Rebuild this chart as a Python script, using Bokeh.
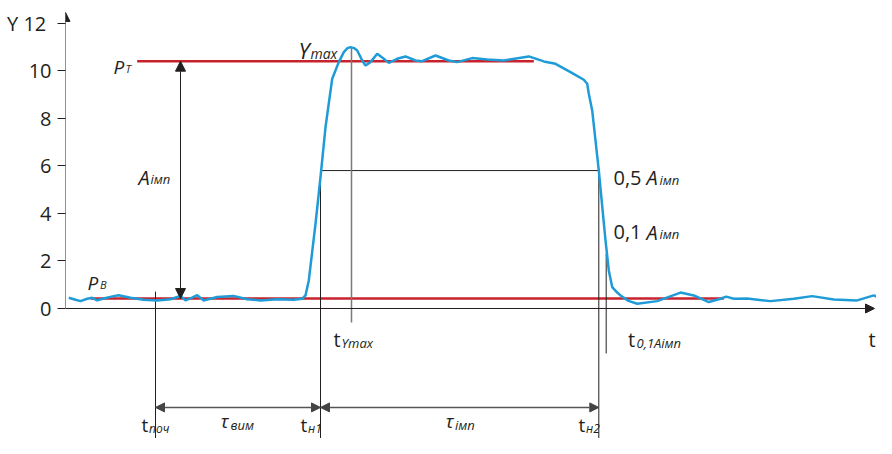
from bokeh.plotting import figure
from bokeh.models import Range1d, Arrow, NormalHead, ColumnDataSource, FixedTicker, LinearAxis
from bokeh.embed import file_html
from bokeh.resources import INLINE
from bokeh.core.properties import value

# ---- signal (time in arbitrary units, Y values) ----
t_sig = [0.33, 1.0, 1.5, 2.17, 2.67, 3.17, 3.8, 4.6, 5.3, 6.5, 7.8, 9.17, 10.5, 11.5, 12.0,
         12.6, 13.17, 13.8, 15.17, 16.8, 18.17, 19.5, 21.17, 22.8, 23.67, 24.0, 24.33, 25.0,
         25.5, 26.0, 26.67, 27.33, 27.83, 28.2, 28.5, 28.85, 29.17, 29.67, 30.0, 30.5, 31.17,
         31.83, 32.33, 33.17, 34.0, 35.0, 35.67, 37.0, 38.33, 39.17, 40.67, 42.17, 43.83,
         46.33, 47.83, 49.0, 50.5, 51.83, 52.17, 52.33, 52.67, 53.33, 54.0, 54.33, 54.67,
         55.17, 55.5, 56.3, 57.17, 59.17, 61.5, 62.83, 64.33, 65.5, 66.07, 66.83, 68.17, 70.5,
         72.83, 74.67, 76.83, 79.17, 80.83, 81.67, 82.33]
y_sig = [0.45, 0.37, 0.31, 0.41, 0.45, 0.34, 0.42, 0.50, 0.56, 0.45, 0.37, 0.34, 0.39, 0.53, 0.34,
         0.45, 0.56, 0.34, 0.48, 0.53, 0.39, 0.34, 0.39, 0.37, 0.41, 0.55, 1.18, 3.56,
         5.52, 7.62, 9.66, 10.36, 10.78, 10.95, 10.99, 10.95, 10.85, 10.43, 10.22, 10.36, 10.71,
         10.50, 10.33, 10.50, 10.60, 10.43, 10.40, 10.64, 10.43, 10.36, 10.53, 10.47, 10.43,
         10.60, 10.39, 10.29, 9.94, 9.62, 9.45, 9.03, 8.33, 5.80, 2.86, 1.60, 0.90,
         0.67, 0.55, 0.32, 0.20, 0.31, 0.67, 0.55, 0.27, 0.41, 0.50, 0.41, 0.42, 0.31,
         0.41, 0.52, 0.38, 0.34, 0.55, 0.41, 0.31]

# ---- characteristic levels and times ----
P_B = 0.42
P_T = 10.40
Y_MAX = 10.99
HALF_LEVEL = 5.80
T_POCH = 9.0
T_N1 = 25.5
T_YMAX = 28.6
T_N2 = 53.33
T_01 = 54.07
PT_START, PT_END = 7.17, 46.83
PB_START, PB_END = 2.5, 65.83
A_T = 11.5
DUR_Y = -4.16
Y_TICKS = [0, 2, 4, 6, 8, 10, 12]
Y_TICK_LABELS = {12: "Y  12"}
Y_BOTTOM = -5.467
X_RIGHT = 81.1

INK = "#231f20"
RED = "#c8232c"
BLUE = "#1f9bd8"

W, H = 876, 438
p = figure(width=W, height=H, output_backend="svg", toolbar_location=None,
           x_range=Range1d(0, X_RIGHT), y_range=Range1d(Y_BOTTOM, 12.952),
           x_axis_type=None, y_axis_type=None,
           min_border_left=65, min_border_right=0, min_border_top=0, min_border_bottom=0)
p.outline_line_color = None
p.background_fill_color = "white"
p.border_fill_color = "white"

yax = LinearAxis(ticker=FixedTicker(ticks=Y_TICKS), axis_line_color=None,
                 major_tick_out=8, major_tick_in=0, minor_tick_line_color=None,
                 major_tick_line_color=INK, major_tick_line_width=1,
                 major_label_text_font="Open Sans", major_label_text_font_size="20px",
                 major_label_text_color=INK, major_label_standoff=6,
                 major_label_overrides=Y_TICK_LABELS)
p.add_layout(yax, "left")

# axes with arrows
p.add_layout(Arrow(end=NormalHead(size=9, fill_color=INK, line_color=INK, line_width=1),
                   x_start=0, y_start=0, x_end=0, y_end=12.45, line_color=INK, line_width=1))
p.add_layout(Arrow(end=NormalHead(size=9, fill_color=INK, line_color=INK, line_width=1),
                   x_start=0, y_start=0, x_end=80.9, y_end=0, line_color=INK, line_width=1))

# red levels
p.line([PT_START, PT_END], [P_T, P_T], line_color=RED, line_width=2.5)
p.line([PB_START, PB_END], [P_B, P_B], line_color=RED, line_width=2.5)

# construction lines
p.line([T_N1, T_N2], [HALF_LEVEL, HALF_LEVEL], line_color=INK, line_width=1)
p.segment(x0=[T_N1, T_N2, T_POCH, T_01], y0=[HALF_LEVEL, HALF_LEVEL, 0.71, 2.3],
          x1=[T_N1, T_N2, T_POCH, T_01], y1=[Y_BOTTOM, Y_BOTTOM, Y_BOTTOM, -1.89],
          line_color=INK, line_width=1)
p.segment(x0=[T_YMAX], y0=[Y_MAX], x1=[T_YMAX], y1=[-0.59], line_color="#7a7a7a", line_width=1.5)

# signal
p.line(t_sig, y_sig, line_color=BLUE, line_width=2.5)

# amplitude arrow
p.add_layout(Arrow(start=NormalHead(size=10, fill_color=INK, line_color=INK),
                   end=NormalHead(size=10, fill_color=INK, line_color=INK),
                   x_start=A_T, y_start=P_B, x_end=A_T, y_end=P_T, line_color=INK, line_width=1))

# duration arrows
for a, b in [(T_POCH, T_N1), (T_N1, T_N2)]:
    p.add_layout(Arrow(start=NormalHead(size=9, fill_color="#444444", line_color="#444444"),
                       end=NormalHead(size=9, fill_color="#444444", line_color="#444444"),
                       x_start=a, y_start=DUR_Y, x_end=b, y_end=DUR_Y,
                       line_color="#555555", line_width=1.5))

# labels: main text + subscript pieces
lab_text = ["P", "T", "A", "імп", "P", "B", "Y", "max",
            "0,5", "A", "імп", "0,1", "A", "імп",
            "t", "Ymax", "t", "0,1Aімп",
            "τ", "вим", "τ", "імп",
            "t", "поч", "t", "н1", "t", "н2", "t"]
lab_x = [4.8, 6.0, 7.3, 8.5, 2.2, 3.45, 23.3, 24.5,
         54.8, 58.1, 59.4, 54.8, 58.1, 59.4,
         26.8, 27.6, 56.25, 57.1,
         15.5, 16.5, 38.0, 38.95,
         7.6, 8.35, 23.5, 24.25, 51.3, 52.05, 80.3]
lab_y = [10.16, 10.09, 5.51, 5.43, 1.08, 1.0, 10.85, 10.72,
         5.49, 5.49, 5.42, 3.2, 3.2, 3.12,
         -1.30, -1.43, -1.30, -1.43,
         -4.75, -4.88, -4.75, -4.88,
         -4.92, -5.05, -4.92, -5.05, -4.92, -5.05, -1.30]
lab_size = ["19px", "11px", "20px", "13px", "19px", "11px", "22px", "14px",
            "20px", "20px", "13px", "20px", "20px", "13px",
            "20px", "13px", "20px", "13px",
            "19px", "13px", "19px", "13px",
            "19px", "12px", "19px", "12px", "19px", "12px", "20px"]
lab_style = ["italic", "italic", "italic", "italic", "italic", "italic", "italic", "italic",
             "normal", "italic", "italic", "normal", "italic", "italic",
             "normal", "italic", "normal", "italic",
             "italic", "italic", "italic", "italic",
             "normal", "italic", "normal", "italic", "normal", "italic", "normal"]

src = ColumnDataSource(dict(x=lab_x, y=lab_y, text=lab_text, size=lab_size, style=lab_style))
p.text(x="x", y="y", text="text", source=src, text_font=value("Open Sans"),
       text_font_size="size", text_font_style="style", text_align="left",
       text_baseline="alphabetic", text_color=INK)

open("out.html", "w").write(file_html(p, INLINE))
